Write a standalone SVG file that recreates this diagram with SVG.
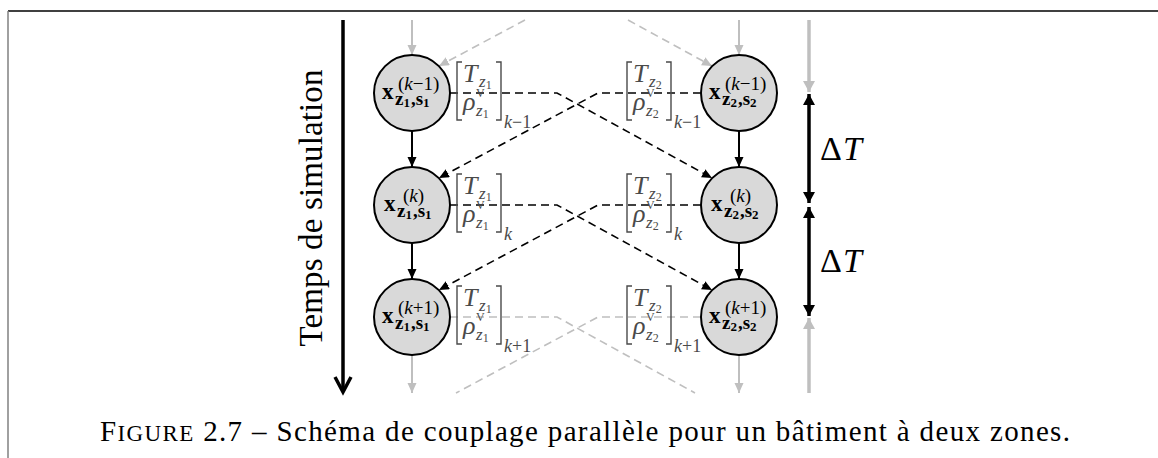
<svg xmlns="http://www.w3.org/2000/svg" width="1158" height="458" viewBox="0 0 1158 458">
<style>
.node circle{fill:#d9d9d9;stroke:#000;stroke-width:2}
text{font-family:"Liberation Serif","Times New Roman",serif}
.nt{fill:#000}
.xb{font-weight:bold;font-size:23px}
.sub{font-weight:bold;font-size:19px}
.s2{font-size:13px}
.sup{font-size:19px}
.it{font-style:italic}
.up{font-style:normal}
.lbl text{fill:#4a4a4a}
.lbl path{fill:none;stroke:#4a4a4a;stroke-width:1.4}
.big{font-size:26px;font-style:italic}
.lz{font-size:17px;font-style:italic}
.ls2{font-size:12px;font-style:normal}
.lv{font-size:12px}
.lk{font-size:18px}
.dash{fill:none;stroke:#000;stroke-width:1.6;stroke-dasharray:8 5}
.gdash{fill:none;stroke:#bfbfbf;stroke-width:1.6;stroke-dasharray:8 5}
.solid{fill:none;stroke:#000;stroke-width:2}
.gsolid{fill:none;stroke:#bfbfbf;stroke-width:2}
.thick{fill:none;stroke:#000;stroke-width:3.5}
.gthick{fill:none;stroke:#bfbfbf;stroke-width:3.5}
</style>
<defs>
<marker id="ah" markerUnits="userSpaceOnUse" markerWidth="12" markerHeight="12" refX="10" refY="4.5" orient="auto"><path d="M0,0 L10,4.5 L0,9 Z" fill="#000"/></marker>
<marker id="ahg" markerUnits="userSpaceOnUse" markerWidth="12" markerHeight="12" refX="10" refY="4.5" orient="auto"><path d="M0,0 L10,4.5 L0,9 Z" fill="#bfbfbf"/></marker>
<marker id="bh" markerUnits="userSpaceOnUse" markerWidth="14" markerHeight="14" refX="11" refY="6" orient="auto-start-reverse"><path d="M0,0 L11,6 L0,12 Z" fill="#000"/></marker>
<marker id="bhg" markerUnits="userSpaceOnUse" markerWidth="14" markerHeight="14" refX="11" refY="6" orient="auto-start-reverse"><path d="M0,0 L11,6 L0,12 Z" fill="#bfbfbf"/></marker>
</defs>

<g id="frame">
<line x1="8" y1="11" x2="1158" y2="11" stroke="#000" stroke-width="1.3"/>
<line x1="8" y1="11" x2="8" y2="458" stroke="#808080" stroke-width="1.5"/>
</g>

<g id="time-axis">
<line x1="343" y1="20" x2="343" y2="391" stroke="#000" stroke-width="3.5"/>
<polyline points="335,377 343,392 351,377" fill="none" stroke="#000" stroke-width="3.5"/>
<text transform="translate(322,208) rotate(-90)" text-anchor="middle" font-size="33" textLength="277" fill="#000">Temps de simulation</text>
</g>

<g id="connectors">
<path class="gsolid" d="M412,20 V55" marker-end="url(#ahg)"/>
<path class="solid" d="M412,131 V167" marker-end="url(#ah)"/>
<path class="solid" d="M412,243 V279" marker-end="url(#ah)"/>
<path class="gsolid" d="M412,355 V393" marker-end="url(#ahg)"/>
<path class="gsolid" d="M739,20 V55" marker-end="url(#ahg)"/>
<path class="solid" d="M739,131 V167" marker-end="url(#ah)"/>
<path class="solid" d="M739,243 V279" marker-end="url(#ah)"/>
<path class="gsolid" d="M739,355 V393" marker-end="url(#ahg)"/>
<path class="gdash" d="M628,20 L712,66" marker-end="url(#ahg)"/>
<path class="gdash" d="M525,20 L439,66" marker-end="url(#ahg)"/>
<path class="dash" d="M450,93 H557 L712,178" marker-end="url(#ah)"/>
<path class="dash" d="M701,93 H598 L439,178" marker-end="url(#ah)"/>
<path class="dash" d="M450,205 H557 L712,290" marker-end="url(#ah)"/>
<path class="dash" d="M701,205 H598 L439,290" marker-end="url(#ah)"/>
<path class="gdash" d="M450,317 H557 L695,393"/>
<path class="gdash" d="M701,317 H598 L456,393"/>
<path class="gthick" d="M809,20 V92" marker-end="url(#bhg)"/>
<path class="thick" d="M809,94 V203" marker-start="url(#bh)" marker-end="url(#bh)"/>
<path class="thick" d="M809,207 V316" marker-start="url(#bh)" marker-end="url(#bh)"/>
<path class="gthick" d="M809,393 V318" marker-end="url(#bhg)"/>
</g>

<g id="dt1"><text x="820" y="160" font-size="34" fill="#000">Δ<tspan class="it" dx="1">T</tspan></text></g>
<g id="dt2"><text x="820" y="272" font-size="34" fill="#000">Δ<tspan class="it" dx="1">T</tspan></text></g>

<!-- left column nodes -->
<g id="x1-km1" class="node">
<circle cx="412" cy="93" r="38"/>
<text class="nt"><tspan class="xb" x="382" y="99">x</tspan><tspan class="sup" x="398" y="90">(<tspan class="it">k</tspan>−1)</tspan><tspan class="sub" x="395" y="105">z<tspan class="s2" dy="2">1</tspan><tspan dy="-2" dx="1">,s</tspan><tspan class="s2" dy="2">1</tspan></tspan></text>
</g>
<g id="x1-k" class="node">
<circle cx="412" cy="205" r="38"/>
<text class="nt"><tspan class="xb" x="384" y="211">x</tspan><tspan class="sup" x="403" y="202">(<tspan class="it">k</tspan>)</tspan><tspan class="sub" x="397" y="217">z<tspan class="s2" dy="2">1</tspan><tspan dy="-2" dx="1">,s</tspan><tspan class="s2" dy="2">1</tspan></tspan></text>
</g>
<g id="x1-kp1" class="node">
<circle cx="412" cy="317" r="38"/>
<text class="nt"><tspan class="xb" x="382" y="323">x</tspan><tspan class="sup" x="398" y="314">(<tspan class="it">k</tspan>+1)</tspan><tspan class="sub" x="395" y="329">z<tspan class="s2" dy="2">1</tspan><tspan dy="-2" dx="1">,s</tspan><tspan class="s2" dy="2">1</tspan></tspan></text>
</g>

<!-- right column nodes -->
<g id="x2-km1" class="node">
<circle cx="739" cy="93" r="38"/>
<text class="nt"><tspan class="xb" x="709" y="99">x</tspan><tspan class="sup" x="725" y="90">(<tspan class="it">k</tspan>−1)</tspan><tspan class="sub" x="722" y="105">z<tspan class="s2" dy="2">2</tspan><tspan dy="-2" dx="1">,s</tspan><tspan class="s2" dy="2">2</tspan></tspan></text>
</g>
<g id="x2-k" class="node">
<circle cx="739" cy="205" r="38"/>
<text class="nt"><tspan class="xb" x="711" y="211">x</tspan><tspan class="sup" x="730" y="202">(<tspan class="it">k</tspan>)</tspan><tspan class="sub" x="724" y="217">z<tspan class="s2" dy="2">2</tspan><tspan dy="-2" dx="1">,s</tspan><tspan class="s2" dy="2">2</tspan></tspan></text>
</g>
<g id="x2-kp1" class="node">
<circle cx="739" cy="317" r="38"/>
<text class="nt"><tspan class="xb" x="709" y="323">x</tspan><tspan class="sup" x="725" y="314">(<tspan class="it">k</tspan>+1)</tspan><tspan class="sub" x="722" y="329">z<tspan class="s2" dy="2">2</tspan><tspan dy="-2" dx="1">,s</tspan><tspan class="s2" dy="2">2</tspan></tspan></text>
</g>

<!-- bracket labels zone 1 -->
<g id="v1-km1" class="lbl">
<path d="M462,62 H457 V120 H462 M496,62 H501 V120 H496"/>
<text><tspan class="big" x="463" y="82">T</tspan><tspan class="lz" x="479" y="87">z<tspan class="ls2" dy="2">1</tspan></tspan><tspan class="big" x="463" y="110">ρ</tspan><tspan class="lv" x="476" y="97">V</tspan><tspan class="lz" x="476" y="116">z<tspan class="ls2" dy="2">1</tspan></tspan><tspan class="lk" x="504" y="128"><tspan class="it">k</tspan>−1</tspan></text>
</g>
<g id="v1-k" class="lbl">
<path d="M462,174 H457 V232 H462 M496,174 H501 V232 H496"/>
<text><tspan class="big" x="463" y="194">T</tspan><tspan class="lz" x="479" y="199">z<tspan class="ls2" dy="2">1</tspan></tspan><tspan class="big" x="463" y="222">ρ</tspan><tspan class="lv" x="476" y="209">V</tspan><tspan class="lz" x="476" y="228">z<tspan class="ls2" dy="2">1</tspan></tspan><tspan class="lk it" x="504" y="240">k</tspan></text>
</g>
<g id="v1-kp1" class="lbl">
<path d="M462,286 H457 V344 H462 M496,286 H501 V344 H496"/>
<text><tspan class="big" x="463" y="306">T</tspan><tspan class="lz" x="479" y="311">z<tspan class="ls2" dy="2">1</tspan></tspan><tspan class="big" x="463" y="334">ρ</tspan><tspan class="lv" x="476" y="321">V</tspan><tspan class="lz" x="476" y="340">z<tspan class="ls2" dy="2">1</tspan></tspan><tspan class="lk" x="504" y="352"><tspan class="it">k</tspan>+1</tspan></text>
</g>

<!-- bracket labels zone 2 -->
<g id="v2-km1" class="lbl">
<path d="M632,62 H627 V120 H632 M666,62 H671 V120 H666"/>
<text><tspan class="big" x="633" y="82">T</tspan><tspan class="lz" x="649" y="87">z<tspan class="ls2" dy="2">2</tspan></tspan><tspan class="big" x="633" y="110">ρ</tspan><tspan class="lv" x="646" y="97">V</tspan><tspan class="lz" x="646" y="116">z<tspan class="ls2" dy="2">2</tspan></tspan><tspan class="lk" x="674" y="128"><tspan class="it">k</tspan>−1</tspan></text>
</g>
<g id="v2-k" class="lbl">
<path d="M632,174 H627 V232 H632 M666,174 H671 V232 H666"/>
<text><tspan class="big" x="633" y="194">T</tspan><tspan class="lz" x="649" y="199">z<tspan class="ls2" dy="2">2</tspan></tspan><tspan class="big" x="633" y="222">ρ</tspan><tspan class="lv" x="646" y="209">V</tspan><tspan class="lz" x="646" y="228">z<tspan class="ls2" dy="2">2</tspan></tspan><tspan class="lk it" x="674" y="240">k</tspan></text>
</g>
<g id="v2-kp1" class="lbl">
<path d="M632,286 H627 V344 H632 M666,286 H671 V344 H666"/>
<text><tspan class="big" x="633" y="306">T</tspan><tspan class="lz" x="649" y="311">z<tspan class="ls2" dy="2">2</tspan></tspan><tspan class="big" x="633" y="334">ρ</tspan><tspan class="lv" x="646" y="321">V</tspan><tspan class="lz" x="646" y="340">z<tspan class="ls2" dy="2">2</tspan></tspan><tspan class="lk" x="674" y="352"><tspan class="it">k</tspan>+1</tspan></text>
</g>

<g id="caption">
<text x="100" y="441" font-size="29" textLength="970" fill="#000">F<tspan font-size="23">IGURE</tspan> 2.7 – Schéma de couplage parallèle pour un bâtiment à deux zones.</text>
</g>
</svg>
